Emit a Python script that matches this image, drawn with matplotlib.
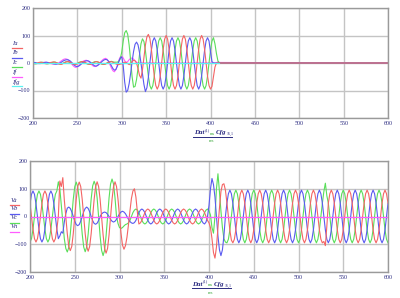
import numpy as np
import matplotlib
matplotlib.use("Agg")
import matplotlib.pyplot as plt
from matplotlib.lines import Line2D

# time grid: 12 samples per 20 ms cycle
t_top = np.append(np.arange(200, 410.1, 5 / 3), 600)
t_bot = np.arange(200, 600.1, 5 / 3)

# currents (top panel)
ia = [-2, -3, -2, 0, 2, 3, 2, 0, -2, -3, -2, 0,
      2, 3, 4, 3, 1, -2, -4, -5, -3, 0, 3, 5,
      5, 3, 0, -3, -5, -5, -3, 0, 3, 5, 5, 3,
      0, -3, -5, -5, -2, 1, 4, 5, 4, 1, -2, -4,
      -5, -4, -1, 2, 4, 5, 3, 0, -3, -5, -6, -4,
      -3, 0, 3, 2, -2, -6, -2, 5, 10, 8, 0, -20,
      -45, -55, -25, 20, 65, 95, 104, 90, 52, 0, -48, -82,
      -95, -82, -48, 0, 50, 87, 100, 87, 50, 0, -48, -82,
      -95, -82, -48, 0, 50, 87, 100, 87, 50, 0, -48, -82,
      -95, -82, -48, 0, 50, 87, 100, 87, 50, 0, -48, -82,
      -95, -85, -50, -15, 0, 0, 0, 0]
ib = [1, 2, 1, -1, -2, -2, -1, 1, 2, 3, 2, 1,
      -1, -2, -3, -4, -4, -3, -1, 2, 6, 9, 11, 12,
      11, 8, 3, -3, -8, -12, -13, -11, -7, -2, 3, 6,
      8, 8, 6, 2, -3, -8, -11, -11, -8, -3, 2, 7,
      11, 13, 12, 7, 0, -10, -20, -26, -24, -12, 5, 18,
      22, -10, -70, -106, -100, -75, -38, 5, 42, 68, 76, 66,
      38, 0, -40, -78, -104, -90, -52, 0, 46, 80, 92, 80,
      46, 0, -47, -82, -95, -82, -47, 0, 46, 80, 92, 80,
      46, 0, -47, -82, -95, -82, -47, 0, 46, 80, 92, 80,
      46, 0, -47, -82, -95, -82, -47, 0, 46, 80, 92, 80,
      40, 5, 0, 0, 0, 0, 0, 0]
ic = [0, -2, -3, -2, 0, 2, 3, 2, 0, -2, -3, -2,
      0, 2, 3, 3, 1, -2, -4, -4, -2, 1, 4, 5,
      4, 2, -1, -4, -5, -4, -1, 2, 4, 5, 4, 1,
      -2, -4, -5, -3, 0, 3, 5, 5, 3, 0, -3, -5,
      -5, -3, 0, 3, 5, 6, 4, 3, 3, 3, 6, 15,
      40, 80, 110, 118, 105, 65, 10, -50, -88, -85, -60, -20,
      30, 70, 88, 78, 45, 0, -48, -82, -95, -82, -48, 0,
      47, 80, 92, 80, 46, 0, -47, -82, -95, -82, -47, 0,
      47, 80, 92, 80, 46, 0, -47, -82, -95, -82, -47, 0,
      47, 80, 92, 80, 46, 0, -47, -82, -95, -82, -47, 0,
      47, 80, 92, 70, 35, 8, 0, 0]
i_f = [2, 1, -1, -2, -2, -1, 1, 2, 3, 2, 1, -1,
       -2, -3, -4, -4, -3, -1, 3, 7, 11, 14, 15, 14,
       10, 4, -3, -9, -14, -16, -14, -9, -3, 3, 7, 9,
       10, 8, 4, -2, -8, -12, -13, -11, -6, 0, 6, 11,
       15, 17, 14, 6, -6, -18, -28, -32, -24, -8, 10, 22,
       24, 18, 8, 2, 5, 12, 17, 18, 14, 8, 3, 0,
       0, 0, 0, 0, 0, 0, 0, 0, 0, 0, 0, 0,
       0, 0, 0, 0, 0, 0, 0, 0, 0, 0, 0, 0,
       0, 0, 0, 0, 0, 0, 0, 0, 0, 0, 0, 0,
       0, 0, 0, 0, 0, 0, 0, 0, 0, 0, 0, 0,
       0, 0, 0, 0, 0, 5, 2, 0]
ifg = [0.0] * (len(t_top) - 1)

# voltages (bottom panel)
va = [46, 0, -46, -80, -92, -80, -46, 0, 46, 80, 92, 80,
      46, 0, -46, -80, -92, -80, -46, 0, 128, 108, 140, 60,
      0, -62, -108, -123, -108, -62, 0, 62, 108, 124, 108, 62,
      0, -62, -108, -125, -108, -62, 0, 62, 108, 125, 108, 62,
      0, -66, -115, -132, -115, -66, 0, 62, 108, 125, 108, 62,
      0, -60, -103, -118, -105, -75, -30, 20, 65, 92, 100, 70,
      15, -27, -23, -14, 0, 14, 23, 27, 23, 14, 0, -14,
      -23, -27, -23, -14, 0, 14, 23, 27, 23, 14, 0, -14,
      -23, -27, -23, -14, 0, 14, 23, 27, 23, 14, 0, -14,
      -23, -27, -23, -14, 0, 14, 23, 27, 23, 14, 0, -14,
      -23, -40, -80, -130, -150, -110, -40, 30, 90, 115, 118, 95,
      50, 0, -50, -85, -95, -82, -48, 0, 48, 82, 95, 82,
      48, 0, -48, -82, -95, -82, -48, 0, 48, 82, 95, 82,
      48, 0, -48, -82, -95, -82, -48, 0, 48, 82, 95, 82,
      48, 0, -48, -82, -95, -82, -48, 0, 48, 82, 95, 82,
      48, 0, -48, -82, -95, -82, -48, 0, 48, 82, 95, 82,
      48, 0, -48, -82, -95, -90, -105, -35, 48, 82, 95, 82,
      48, 0, -48, -82, -95, -82, -48, 0, 48, 82, 95, 82,
      48, 0, -48, -82, -95, -82, -48, 0, 48, 82, 95, 82,
      48, 0, -48, -82, -95, -82, -48, 0, 48, 82, 95, 82,
      48]
vb = [46, 80, 92, 80, 46, 0, -46, -80, -92, -80, -46, 0,
      46, 80, 92, 80, 46, 0, -46, -80, -70, -55, -60, -20,
      10, 30, 34, 29, 17, 0, -17, -29, -33, -29, -17, 0,
      17, 29, 34, 29, 17, 0, -15, -25, -28, -24, -14, 0,
      9, 14, 16, 14, 8, 0, -10, -17, -20, -17, -10, 0,
      10, 16, 19, 16, 10, 0, -10, -18, -23, -25, -22, -14,
      0, 14, 23, 27, 23, 14, 0, -14, -23, -27, -23, -14,
      0, 14, 23, 27, 23, 14, 0, -14, -23, -27, -23, -14,
      0, 14, 23, 27, 23, 14, 0, -14, -23, -27, -23, -14,
      0, 14, 23, 27, 23, 14, 0, -14, -23, -27, -20, 0,
      40, 100, 137, 115, 70, 0, -70, -120, -141, -120, -70, 0,
      48, 82, 95, 82, 48, 0, -48, -82, -95, -82, -48, 0,
      48, 82, 95, 82, 48, 0, -48, -82, -95, -82, -48, 0,
      48, 82, 95, 82, 48, 0, -48, -82, -95, -82, -48, 0,
      48, 82, 95, 82, 48, 0, -48, -82, -95, -82, -48, 0,
      48, 82, 95, 82, 48, 0, -48, -82, -95, -82, -48, 0,
      48, 82, 95, 82, 48, 0, -48, -82, -95, -82, -48, 0,
      48, 82, 95, 82, 48, 0, -48, -82, -95, -82, -48, 0,
      48, 82, 95, 82, 48, 0, -48, -82, -95, -82, -48, 0,
      48, 82, 95, 82, 48, 0, -48, -82, -95, -82, -48, 0,
      48]
vc = [-92, -80, -46, 0, 46, 80, 92, 80, 46, 0, -46, -80,
      -92, -80, -46, 0, 46, 80, 92, 125, 100, 40, -20, -80,
      -115, -128, -111, -64, 0, 62, 107, 124, 107, 62, 0, -63,
      -110, -127, -110, -63, 0, 63, 110, 127, 112, 67, 0, -70,
      -122, -141, -122, -70, 0, 67, 117, 135, 117, 67, 0, -25,
      -40, -43, -40, -34, -29, -27, -23, -14, 0, 14, 23, 27,
      23, 14, 0, -14, -23, -27, -23, -14, 0, 14, 23, 27,
      23, 14, 0, -14, -23, -27, -23, -14, 0, 14, 23, 27,
      23, 14, 0, -14, -23, -27, -23, -14, 0, 14, 23, 27,
      23, 14, 0, -14, -23, -27, -23, -14, 0, 14, 23, 27,
      20, 5, -40, -60, 0, 100, 154, 90, 20, -40, -80, -92,
      -95, -82, -48, 0, 48, 82, 95, 82, 48, 0, -48, -82,
      -95, -82, -48, 0, 48, 82, 95, 82, 48, 0, -48, -82,
      -95, -82, -48, 0, 48, 82, 95, 82, 48, 0, -48, -82,
      -95, -82, -48, 0, 48, 82, 95, 82, 48, 0, -48, -82,
      -95, -82, -48, 0, 48, 82, 95, 82, 48, 0, -48, -82,
      -95, -82, -48, 0, 48, 90, 120, 75, 48, 0, -48, -82,
      -95, -82, -48, 0, 48, 82, 95, 82, 48, 0, -48, -82,
      -95, -82, -48, 0, 48, 82, 95, 82, 48, 0, -48, -82,
      -95, -82, -48, 0, 48, 82, 95, 82, 48, 0, -48, -82,
      -95]
vn = [0.0] * len(t_bot)

top_labels = ["Ia", "Ib", "Ic", "If", "Ifg"]
bot_labels = ["Va", "Vb", "Vc", "Vn"]
x_ticks = [200, 250, 300, 350, 400, 450, 500, 550, 600]
y_ticks = [-200, -100, 0, 100, 200]

RED, BLUE, GREEN, MAG, CYAN = "#f46464", "#5a5af0", "#5ade5a", "#ff5cff", "#5cf2f2"
INK = "#2a2a80"
W, H = 400, 298

fig = plt.figure(figsize=(4, 2.98), dpi=100)


def px(x, y):
    return x / W, 1 - y / H


def make_axes(left, top, right, bottom):
    x0, y1 = px(left, top)
    x1, y0 = px(right, bottom)
    ax = fig.add_axes([x0, y0, x1 - x0, y1 - y0])
    ax.set_xlim(200, 600)
    ax.set_ylim(-200, 200)
    ax.set_xticks(x_ticks)
    ax.set_yticks(y_ticks)
    ax.grid(True, color="#c4c4c4", lw=1.0)
    ax.set_axisbelow(True)
    ax.tick_params(length=0, pad=2, labelsize=4.3, labelcolor=INK)
    for lab in ax.get_xticklabels() + ax.get_yticklabels():
        lab.set_family("Liberation Serif")
    for s in ax.spines.values():
        s.set_color("#9a9a9a")
        s.set_linewidth(1.0)
    return ax


def legend(labels, colors, label_y, x0, x1):
    for lab, col, y in zip(labels, colors, label_y):
        fx, fy = px(x0 + 1, y)
        fig.text(fx, fy, lab, fontsize=4.8, style="italic", family="Liberation Serif",
                 color=INK, va="center", ha="left")
        a, b = px(x0, y + 4.8)
        c, _ = px(x1, y + 4.8)
        fig.add_artist(Line2D([a, c], [b, b], color=col, lw=0.9))


def xlabel(cx, cy):
    def t(dx, dy, s, **kw):
        fx, fy = px(cx + dx, cy + dy)
        fig.text(fx, fy, s, va="center", ha="center", family="Liberation Serif", **kw)
    t(-13, 0, "Dat", fontsize=5, style="italic", weight="bold", color=INK)
    t(-5, -3, "(1)", fontsize=3.2, color=INK)
    t(0, 1, "ms", fontsize=3.2, color="#3aa83a")
    t(9, 0, "Cfg", fontsize=5, style="italic", weight="bold", color=INK)
    t(18, 1.5, "16,1", fontsize=3.0, color=INK)
    a, b = px(cx - 19, cy + 4)
    c, _ = px(cx + 20, cy + 4)
    fig.add_artist(Line2D([a, c], [b, b], color=INK, lw=0.7))
    t(0, 8.5, "ms", fontsize=3.4, color="#3aa83a")


ax1 = make_axes(33, 8, 388, 118)
ax1.plot(t_top, i_f, color=MAG, lw=0.8)
ax1.plot(t_top, ic, color=GREEN, lw=0.8)
ax1.plot(t_top, ib, color=BLUE, lw=0.8)
ax1.plot(t_top, ia, color=RED, lw=0.8)
ax1.plot(t_top[:-1], ifg, color=CYAN, lw=0.8)

ax2 = make_axes(30, 161, 388, 272)
ax2.plot(t_bot, vc, color=GREEN, lw=0.8)
ax2.plot(t_bot, vb, color=BLUE, lw=0.8)
ax2.plot(t_bot, va, color=RED, lw=0.8)
ax2.plot(t_bot, vn, color=MAG, lw=0.8)

legend(top_labels, [RED, BLUE, GREEN, MAG, CYAN], [43.3, 52.7, 62.3, 72.3, 81.7], 11.5, 21.5)
legend(bot_labels, [RED, BLUE, GREEN, MAG], [200, 209, 217.7, 226.7], 9.5, 19)

xlabel(212, 132.7)
xlabel(210.5, 284.3)

fig.savefig("out.png", dpi=100)
